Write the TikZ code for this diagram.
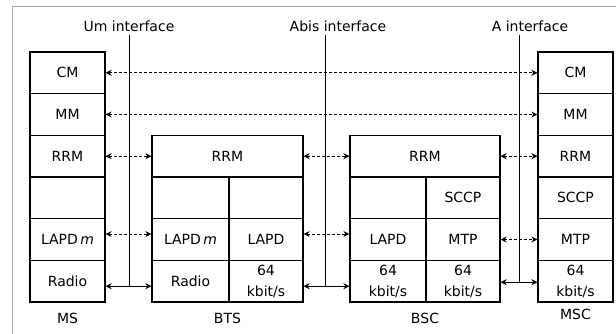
\documentclass[tikz,border=0pt]{standalone}
\usepackage{fontspec}
\setmainfont{DejaVu Sans}
\usetikzlibrary{arrows.meta}
\begin{document}
\begin{tikzpicture}[x=1pt,y=-1pt,
  cell/.style={draw, line width=1.2pt, rectangle, inner sep=0pt,
    minimum height=41.67pt, font=\fontsize{14}{21}\selectfont, align=center},
  lbl/.style={inner sep=0pt, font=\fontsize{14}{17}\selectfont},
  tip/.style={},
  link/.style={line width=0.9pt,
    {Stealth[length=6pt,width=6pt]}-{Stealth[length=6pt,width=6pt]}},
  dlink/.style={link, dash pattern=on 3pt off 2pt},
  iface/.style={line width=1pt}]
\useasboundingbox (0,0) rectangle (616,334);

% outer frame
\draw[black!35, line width=1pt] (616,7) -- (12,7) -- (12,334);

% MS stack
\node[cell, minimum width=75pt] (msCM)  at (67.5,72.8)  {CM};
\node[cell, minimum width=75pt] (msMM)  at (67.5,114.5) {MM};
\node[cell, minimum width=75pt] (msRRM) at (67.5,156.2) {RRM};
\node[cell, minimum width=75pt] (msE)   at (67.5,197.8) {};
\node[cell, minimum width=75pt] (msL)   at (67.5,239.5) {LAPD\,\textit{m}};
\node[cell, minimum width=75pt] (msR)   at (67.5,281.2) {Radio};
\node[lbl] (msN) at (67.5,318) {MS};

% BTS stack
\node[cell, minimum width=151pt] (btsRRM) at (227.5,156.2) {RRM};
\node[cell, minimum width=77pt] (btsE1) at (190.5,197.8) {};
\node[cell, minimum width=74pt] (btsE2) at (266,197.8) {};
\node[cell, minimum width=77pt] (btsLm) at (190.5,239.5) {LAPD\,\textit{m}};
\node[cell, minimum width=74pt] (btsL)  at (266,239.5) {LAPD};
\node[cell, minimum width=77pt] (btsR)  at (190.5,281.2) {Radio};
\node[cell, minimum width=74pt] (btsK)  at (266,281.2) {64\\kbit/s};
\node[lbl] (btsN) at (227.5,318) {BTS};

% BSC stack
\node[cell, minimum width=150pt] (bscRRM) at (425,156.2) {RRM};
\node[cell, minimum width=76pt] (bscE)  at (388,197.8) {};
\node[cell, minimum width=74pt] (bscS)  at (463,197.8) {SCCP};
\node[cell, minimum width=76pt] (bscL)  at (388,239.5) {LAPD};
\node[cell, minimum width=74pt] (bscM)  at (463,239.5) {MTP};
\node[cell, minimum width=76pt] (bscK1) at (388,281.2) {64\\kbit/s};
\node[cell, minimum width=74pt] (bscK2) at (463,281.2) {64\\kbit/s};
\node[lbl] (bscN) at (425,318) {BSC};

% MSC stack
\node[cell, minimum width=75pt] (mscCM)  at (575.5,72.8)  {CM};
\node[cell, minimum width=75pt] (mscMM)  at (575.5,114.5) {MM};
\node[cell, minimum width=75pt] (mscRRM) at (575.5,156.2) {RRM};
\node[cell, minimum width=75pt] (mscS)   at (575.5,197.8) {SCCP};
\node[cell, minimum width=75pt] (mscM)   at (575.5,239.5) {MTP};
\node[cell, minimum width=75pt] (mscK)   at (575.5,281.2) {64\\kbit/s};
\node[lbl] (mscN) at (575.5,314) {MSC};

% interface lines and their titles
\coordinate (umT) at (129,35);   \coordinate (umB) at (129,286);
\coordinate (abT) at (325,35);   \coordinate (abB) at (325,286);
\coordinate (aT)  at (519,35);   \coordinate (aB)  at (519,282);
\node[lbl] (umN) at (129,26) {Um interface};
\node[lbl] (abN) at (338,26) {Abis interface};
\node[lbl] (aN)  at (530,26) {A interface};
\draw[iface] (umT) -- (umB);
\draw[iface] (abT) -- (abB);
\draw[iface] (aT) -- (aB);

% peer-to-peer signalling
\draw[dlink] (msCM.east) -- (mscCM.west);
\draw[dlink] (msMM.east) -- (mscMM.west);
\draw[dlink] (msRRM.east) -- (btsRRM.west);
\draw[dlink] (btsRRM.east) -- (bscRRM.west);
\draw[dlink] (bscRRM.east) -- (mscRRM.west);
\draw[dlink] ([yshift=5.5pt]msL.east) -- ([yshift=5.5pt]btsLm.west);
\draw[dlink] ([yshift=5.5pt]btsL.east) -- ([yshift=5.5pt]bscL.west);
\draw[dlink] (bscM.east) -- (mscM.west);

% physical links
\draw[link] ([yshift=-5pt]msR.east) -- ([yshift=-5pt]btsR.west);
\draw[link] ([yshift=-5pt]btsK.east) -- ([yshift=-5pt]bscK1.west);
\draw[link] ([yshift=-1pt]bscK2.east) -- ([yshift=-1pt]mscK.west);
\end{tikzpicture}
\end{document}
